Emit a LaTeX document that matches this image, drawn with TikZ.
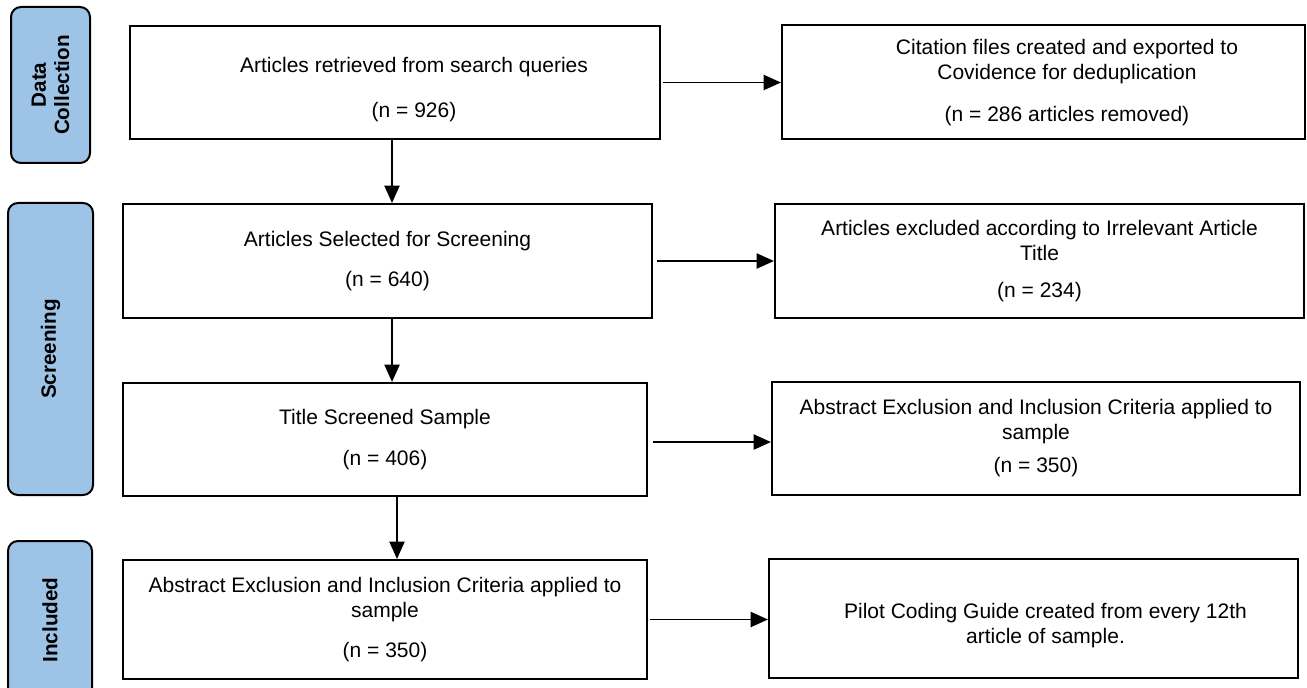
\documentclass[tikz,border=0pt]{standalone}
\usepackage{fontspec}
\setmainfont{Liberation Sans}
\usetikzlibrary{arrows.meta}
\definecolor{stageblue}{HTML}{9DC3E6}
\tikzstyle{txt}=[align=center, font=\fontsize{15.75pt}{18.75pt}\selectfont]
\tikzstyle{block}=[rectangle, draw, line width=1.65pt, inner sep=0pt, txt]
\tikzstyle{stage}=[rectangle, rounded corners=7.5pt, draw, line width=1.5pt, fill=stageblue, rotate=90, align=center, inner sep=0pt, font=\fontsize{15.5pt}{17.5pt}\selectfont\bfseries]
\tikzstyle{arr}=[line width=1pt, -{Triangle[length=13pt, width=11.5pt]}]
\newcommand{\block}{\node[block]}
\newcommand{\stage}{\node[stage]}

\begin{document}
\begin{tikzpicture}[x=0.75pt, y=-0.75pt]
\useasboundingbox (0,0) rectangle (1307,688);
% stages
\stage (dc) at (50.5,85)[minimum width=117pt, minimum height=59.25pt]{Data\\Collection};
\stage (sc) at (50.5,349)[minimum width=219pt, minimum height=63.75pt]{Screening};
\stage (in) at (50,620)[minimum width=118.5pt, minimum height=63pt]{Included};
% left column
\block (L1) at (395,82.5)[minimum width=397.5pt, minimum height=84.75pt,
  label={[txt, xshift=14.25pt, yshift=-5.25pt]center:{Articles retrieved from search queries\\[15pt](n = 926)}}]{};
\block (L2) at (387.5,261)[minimum width=396.75pt, minimum height=85.5pt]{Articles Selected for Screening\\[11.25pt](n = 640)};
\block (L3) at (385,439.5)[minimum width=393pt, minimum height=84.75pt]{Title Screened Sample\\[12pt](n = 406)};
\block (L4) at (385,619.5)[minimum width=393pt, minimum height=89.25pt]{Abstract Exclusion and Inclusion Criteria applied to\\sample\\[11.25pt](n = 350)};
% right column
\block (R1) at (1043.5,82)[minimum width=392.25pt, minimum height=85.5pt,
  label={[txt, xshift=17.6pt, yshift=-0.75pt]center:{Citation files created and exported to\\Covidence for deduplication\\[12.75pt](n = 286 articles removed)}}]{};
\block (R2) at (1039.5,261)[minimum width=396.75pt, minimum height=85.5pt]{Articles excluded according to Irrelevant Article\\Title\\[9pt](n = 234)};
\block (R3) at (1036,438.5)[minimum width=396pt, minimum height=84.75pt]{Abstract Exclusion and Inclusion Criteria applied to\\sample\\[6pt](n = 350)};
\block (R4) at (1033.5,618.5)[minimum width=396.75pt, minimum height=89.25pt,
  label={[txt, xshift=9pt, yshift=-5.25pt]center:{Pilot Coding Guide created from every 12th\\article of sample.}}]{};
% arrows
\draw[arr, shorten <=1.5pt] (L1.east) -- (L1.east -| R1.west);
\draw[arr, shorten <=3pt] (L2.east) -- (L2.east -| R2.west);
\draw[arr, shorten <=3.5pt] ([yshift=-1.9pt]L3.east) -- ([yshift=-1.9pt]L3.east -| R3.west);
\draw[arr, shorten <=1.5pt] (L4.east) -- (L4.east -| R4.west);
\draw[arr] ([xshift=-2.25pt]L1.south) -- ([xshift=-2.25pt]L1.south |- L2.north);
\draw[arr] ([xshift=3.4pt]L2.south) -- ([xshift=3.4pt]L2.south |- L3.north);
\draw[arr] ([xshift=9pt]L3.south) -- ([xshift=9pt]L3.south |- L4.north);
\end{tikzpicture}
\end{document}
